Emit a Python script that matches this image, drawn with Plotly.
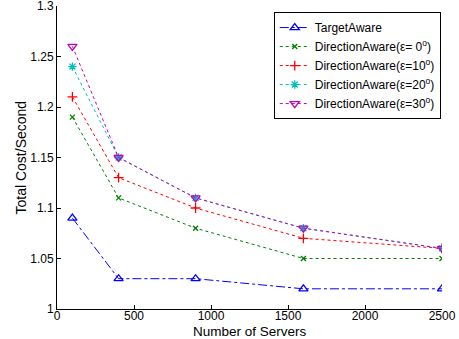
import plotly.graph_objects as go

servers = [100, 400, 900, 1600, 2500]
target_aware = [1.09, 1.03, 1.03, 1.02, 1.02]
dir_aware_0 = [1.19, 1.11, 1.08, 1.05, 1.05]
dir_aware_10 = [1.21, 1.13, 1.10, 1.07, 1.06]
dir_aware_20 = [1.24, 1.15, 1.11, 1.08, 1.06]
dir_aware_30 = [1.26, 1.15, 1.11, 1.08, 1.06]

x_ticks = [0, 500, 1000, 1500, 2000, 2500]
y_ticks = [1, 1.05, 1.1, 1.15, 1.2, 1.25, 1.3]
y_tick_text = ["1", "1.05", "1.1", "1.15", "1.2", "1.25", "1.3"]
x_title = "Number of Servers"
y_title = "Total Cost/Second"

names = [
    "TargetAware",
    "DirectionAware(ε= 0<sup>o</sup>)",
    "DirectionAware(ε=10<sup>o</sup>)",
    "DirectionAware(ε=20<sup>o</sup>)",
    "DirectionAware(ε=30<sup>o</sup>)",
]
series = [target_aware, dir_aware_0, dir_aware_10, dir_aware_20, dir_aware_30]
colors = ["rgb(0,0,255)", "rgb(0,128,0)", "rgb(255,0,0)", "rgb(0,191,191)", "rgb(191,0,191)"]
dashes = ["dashdot", "dot", "dot", "dot", "dot"]
symbols = ["triangle-up-open", "x-thin-open", "cross-thin-open", "asterisk-open", "triangle-down-open"]
sizes = [8, 5, 7, 7, 8]

fig = go.Figure()
for n, s, c, d, sym, sz in zip(names, series, colors, dashes, symbols, sizes):
    fig.add_trace(go.Scatter(
        x=servers, y=s, name=n, mode="lines+markers",
        line=dict(color=c, dash=d, width=1),
        marker=dict(symbol=sym, size=sz, color=c, line=dict(color=c, width=1.3)),
    ))

fig.update_layout(
    width=459, height=339,
    margin=dict(l=57, r=17, t=6, b=30, autoexpand=False),
    paper_bgcolor="white", plot_bgcolor="white",
    font=dict(family="Liberation Sans, Arial, sans-serif", size=12, color="black"),
    legend=dict(
        x=0.563, y=0.98, xanchor="left", yanchor="top",
        bordercolor="black", borderwidth=1, bgcolor="white",
        font=dict(size=12), tracegroupgap=0, itemwidth=30,
    ),
    xaxis=dict(
        range=[0, 2500], tickvals=x_ticks, automargin=False,
        ticks="inside", ticklen=4, tickcolor="black", ticklabeloverflow="allow",
        ticklabelstandoff=-4,
        showline=True, linecolor="black", linewidth=1, showgrid=False, zeroline=False,
        mirror=False,
    ),
    yaxis=dict(
        range=[1, 1.3], tickvals=y_ticks, ticktext=y_tick_text, automargin=False,
        ticks="inside", ticklen=4, tickcolor="black", ticklabeloverflow="allow",
        showline=True, linecolor="black", linewidth=1, showgrid=False, zeroline=False,
    ),
    annotations=[
        dict(text=x_title, xref="paper", yref="paper", x=0.5, y=0,
             xanchor="center", yanchor="middle", yshift=-22, showarrow=False,
             font=dict(size=13.5)),
        dict(text=y_title, xref="paper", yref="paper", x=0, y=0.5,
             xanchor="center", yanchor="middle", xshift=-37, textangle=-90,
             showarrow=False, font=dict(size=14)),
    ],
)

fig.write_html("out.html")
